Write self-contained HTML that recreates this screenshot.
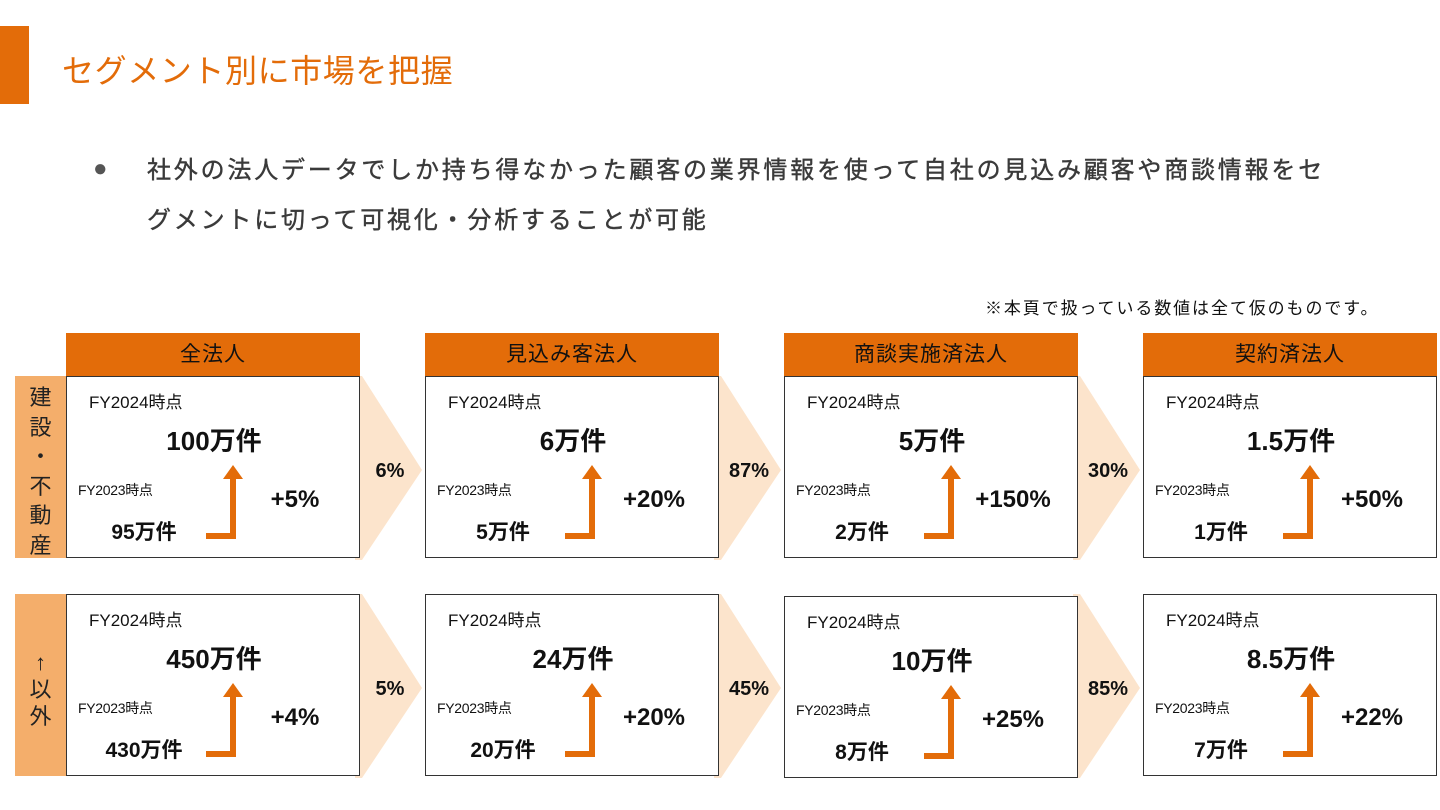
<!DOCTYPE html>
<html><head><meta charset="utf-8"><style>
*{margin:0;padding:0;box-sizing:border-box}
body{width:1440px;height:810px;background:#fff;position:relative;overflow:hidden;font-family:"Liberation Sans","Noto Sans CJK JP",sans-serif;color:#111}
.a{position:absolute;white-space:nowrap}
.hd{position:absolute;width:294px;height:43px;background:#E36C09;color:#111;font-size:21px;letter-spacing:1px;text-align:center;line-height:43px;top:333px}
.bx{position:absolute;width:294px;height:182px;border:1.5px solid #333;background:#fff}
.bx .f4{position:absolute;left:22px;top:11px;font-size:17px}
.bx .big{position:absolute;left:0;width:294px;text-align:center;top:44px;font-size:26px;font-weight:bold}
.bx .f3{position:absolute;left:11px;top:103px;font-size:14px;letter-spacing:-0.3px}
.bx .sm{position:absolute;left:17px;width:120px;text-align:center;top:139px;font-size:21px;font-weight:bold}
.bx .h{position:absolute;left:139px;top:156px;width:30px;height:6px;background:#E36C09}
.bx .v{position:absolute;left:163px;top:100px;width:6px;height:62px;background:#E36C09}
.bx .t{position:absolute;left:156px;top:88px;width:0;height:0;border-left:10px solid transparent;border-right:10px solid transparent;border-bottom:14px solid #E36C09}
.bx .p{position:absolute;left:168px;width:120px;text-align:center;top:109px;font-size:24px;font-weight:bold}
.pc{position:absolute;font-size:20px;font-weight:bold;width:60px;text-align:center}
.lb{position:absolute;left:15px;width:51px;height:182px;background:#F4AE6B;text-align:center;font-size:22px;color:#222}
</style></head><body>
<div class="a" style="left:0;top:26px;width:29px;height:78px;background:#E36C09"></div>
<div class="a" style="left:62px;top:46px;font-size:32px;letter-spacing:0.6px;color:#E36C09">セグメント別に市場を把握</div>
<div class="a" style="left:93px;top:155px;font-size:24px;color:#555">●</div>
<div class="a" style="left:147px;top:146px;font-size:24px;letter-spacing:2.8px;color:#3a3a3a;font-weight:normal;-webkit-text-stroke:0.4px #3a3a3a;line-height:50px">社外の法人データでしか持ち得なかった顧客の業界情報を使って自社の見込み顧客や商談情報をセ<br>グメントに切って可視化・分析することが可能</div>
<div class="a" style="left:985px;top:294px;font-size:17px;letter-spacing:1.9px;color:#111">※本頁で扱っている数値は全て仮のものです。</div>

<svg class="a" style="left:0;top:0" width="1440" height="810">
<g fill="#FCE4CC">
<polygon points="355,376 362,376 422,470 362,560 355,560"/>
<polygon points="714,376 721,376 781,470 721,560 714,560"/>
<polygon points="1073,376 1080,376 1140,470 1080,560 1073,560"/>
<polygon points="355,594 362,594 422,688 362,778 355,778"/>
<polygon points="714,594 721,594 781,688 721,778 714,778"/>
<polygon points="1073,594 1080,594 1140,688 1080,778 1073,778"/>
</g></svg>

<div class="hd" style="left:66px">全法人</div>
<div class="hd" style="left:425px">見込み客法人</div>
<div class="hd" style="left:784px">商談実施済法人</div>
<div class="hd" style="left:1143px">契約済法人</div>

<div class="lb" style="top:376px;line-height:29.5px;padding-top:7px">建<br>設<br>・<br>不<br>動<br>産</div>
<div class="lb" style="top:594px;line-height:27px;padding-top:55px">↑<br>以<br>外</div>

<div class="pc" style="left:360px;top:460px">6%</div>
<div class="pc" style="left:719px;top:460px">87%</div>
<div class="pc" style="left:1078px;top:460px">30%</div>
<div class="pc" style="left:360px;top:678px">5%</div>
<div class="pc" style="left:719px;top:678px">45%</div>
<div class="pc" style="left:1078px;top:678px">85%</div>

<div class="bx" style="left:66px;top:376px"><div class="f4">FY2024時点</div><div class="big">100万件</div><div class="f3">FY2023時点</div><div class="sm">95万件</div><div class="h"></div><div class="v"></div><div class="t"></div><div class="p">+5%</div></div>
<div class="bx" style="left:425px;top:376px"><div class="f4">FY2024時点</div><div class="big">6万件</div><div class="f3">FY2023時点</div><div class="sm">5万件</div><div class="h"></div><div class="v"></div><div class="t"></div><div class="p">+20%</div></div>
<div class="bx" style="left:784px;top:376px"><div class="f4">FY2024時点</div><div class="big">5万件</div><div class="f3">FY2023時点</div><div class="sm">2万件</div><div class="h"></div><div class="v"></div><div class="t"></div><div class="p">+150%</div></div>
<div class="bx" style="left:1143px;top:376px"><div class="f4">FY2024時点</div><div class="big">1.5万件</div><div class="f3">FY2023時点</div><div class="sm">1万件</div><div class="h"></div><div class="v"></div><div class="t"></div><div class="p">+50%</div></div>

<div class="bx" style="left:66px;top:594px"><div class="f4">FY2024時点</div><div class="big">450万件</div><div class="f3">FY2023時点</div><div class="sm">430万件</div><div class="h"></div><div class="v"></div><div class="t"></div><div class="p">+4%</div></div>
<div class="bx" style="left:425px;top:594px"><div class="f4">FY2024時点</div><div class="big">24万件</div><div class="f3">FY2023時点</div><div class="sm">20万件</div><div class="h"></div><div class="v"></div><div class="t"></div><div class="p">+20%</div></div>
<div class="bx" style="left:784px;top:596px"><div class="f4">FY2024時点</div><div class="big">10万件</div><div class="f3">FY2023時点</div><div class="sm">8万件</div><div class="h"></div><div class="v"></div><div class="t"></div><div class="p">+25%</div></div>
<div class="bx" style="left:1143px;top:594px"><div class="f4">FY2024時点</div><div class="big">8.5万件</div><div class="f3">FY2023時点</div><div class="sm">7万件</div><div class="h"></div><div class="v"></div><div class="t"></div><div class="p">+22%</div></div>
</body></html>
